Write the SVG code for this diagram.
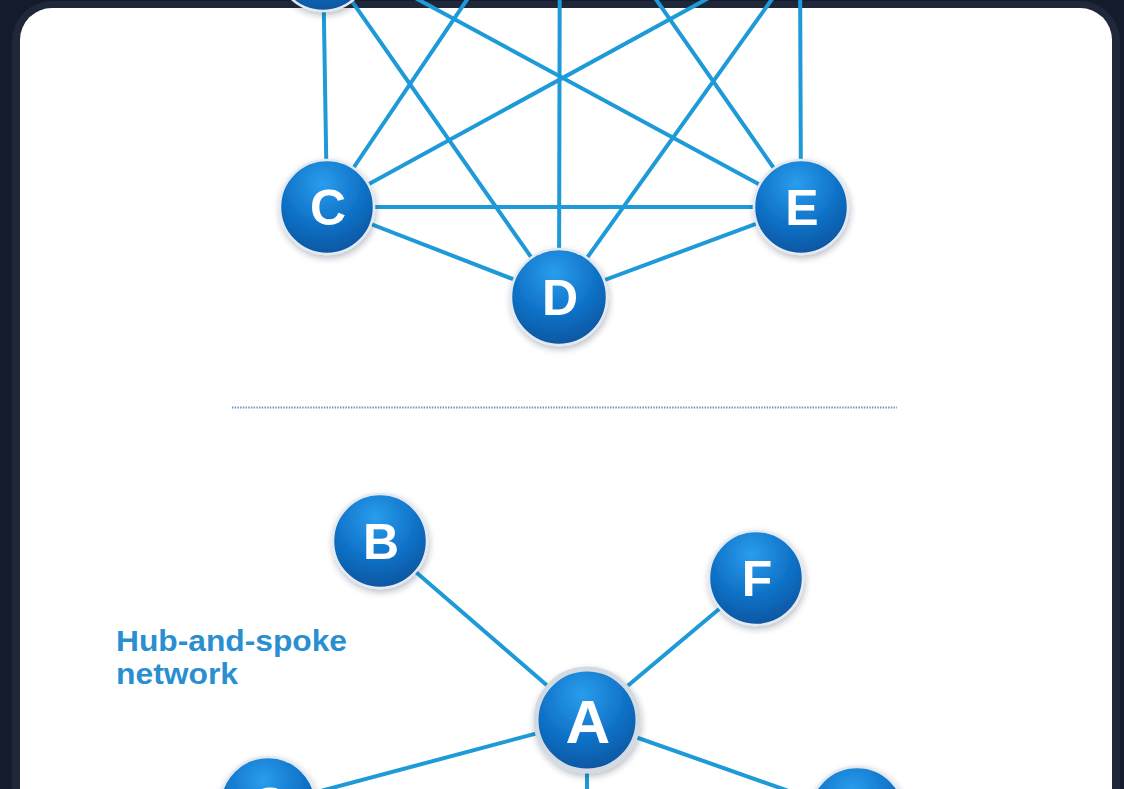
<svg xmlns="http://www.w3.org/2000/svg" width="1124" height="789" viewBox="0 0 1124 789">
  <defs>
    <radialGradient id="nodeGrad" cx="0.45" cy="0.25" r="0.85">
      <stop offset="0" stop-color="#2a9ded"/>
      <stop offset="0.5" stop-color="#1073c8"/>
      <stop offset="1" stop-color="#0a4d96"/>
    </radialGradient>
    <filter id="shadow" x="-30%" y="-30%" width="160%" height="160%">
      <feDropShadow dx="1" dy="3" stdDeviation="3" flood-color="#1a2a40" flood-opacity="0.3"/>
    </filter>
    <style>
      .edge { stroke: #1d9ad7; stroke-width: 4; stroke-linecap: round; fill: none; }
      .node { fill: url(#nodeGrad); stroke: #e2e9f0; stroke-width: 2.5; filter: url(#shadow); }
      .hub { fill: url(#nodeGrad); stroke: #d3dae2; stroke-width: 5; filter: url(#shadow); }
      .lbl { font-family: "Liberation Sans", Arial, sans-serif; font-weight: bold; fill: #ffffff; text-anchor: middle; }
      .title { font-family: "Liberation Sans", Arial, sans-serif; font-weight: bold; fill: #2a8fd1; font-size: 29px; }
    </style>
  </defs>

  <!-- background and panel -->
  <rect x="0" y="0" width="1124" height="789" fill="#141b2b"/>
  <rect x="12" y="1" width="1108" height="840" rx="40" fill="#1e283a"/>
  <rect x="20" y="8" width="1092" height="830" rx="32" fill="#ffffff"/>

  <!-- connectors -->
  <g id="connectors">
    <!-- mesh network -->
    <line class="edge" x1="323" y1="-40" x2="327" y2="207"/>
    <line class="edge" x1="323" y1="-40" x2="559" y2="297"/>
    <line class="edge" x1="323" y1="-52" x2="801" y2="207"/>
    <line class="edge" x1="560" y1="-138" x2="327" y2="207"/>
    <line class="edge" x1="560" y1="-138" x2="559" y2="297"/>
    <line class="edge" x1="560" y1="-138" x2="801" y2="207"/>
    <line class="edge" x1="800" y1="-52" x2="327" y2="207"/>
    <line class="edge" x1="800" y1="-40" x2="559" y2="297"/>
    <line class="edge" x1="800" y1="-40" x2="801" y2="207"/>
    <line class="edge" x1="327" y1="207" x2="801" y2="207"/>
    <line class="edge" x1="327" y1="207" x2="559" y2="297"/>
    <line class="edge" x1="559" y1="297" x2="801" y2="207"/>
    <!-- hub and spoke -->
    <line class="edge" x1="587" y1="720" x2="380" y2="541"/>
    <line class="edge" x1="587" y1="720" x2="756" y2="578"/>
    <line class="edge" x1="587" y1="720" x2="268" y2="805"/>
    <line class="edge" x1="587" y1="720" x2="857" y2="815"/>
    <line class="edge" x1="587" y1="720" x2="587" y2="900"/>
  </g>

  <!-- separator -->
  <line x1="232" y1="407.5" x2="897" y2="407.5" stroke="#6f9cc0" stroke-width="2" stroke-dasharray="1.5 1.2"/>

  <!-- mesh nodes -->
  <g id="mesh-B"><circle class="node" cx="323" cy="-36" r="47"/></g>
  <g id="mesh-F"><circle class="node" cx="800" cy="-52" r="47"/></g>
  <g id="mesh-C">
    <circle class="node" cx="327" cy="207" r="47"/>
    <text class="lbl" x="328" y="225" font-size="50">C</text>
  </g>
  <g id="mesh-D">
    <circle class="node" cx="559" cy="297" r="48"/>
    <text class="lbl" x="560" y="315" font-size="50">D</text>
  </g>
  <g id="mesh-E">
    <circle class="node" cx="801" cy="207" r="47"/>
    <text class="lbl" x="802" y="225" font-size="50">E</text>
  </g>

  <!-- hub-and-spoke label -->
  <text class="title" x="116" y="651" textLength="231" lengthAdjust="spacingAndGlyphs">Hub-and-spoke</text>
  <text class="title" x="116" y="684" textLength="122" lengthAdjust="spacingAndGlyphs">network</text>

  <!-- hub-and-spoke nodes -->
  <g id="hub-B">
    <circle class="node" cx="380" cy="541" r="47"/>
    <text class="lbl" x="381" y="559" font-size="50">B</text>
  </g>
  <g id="hub-F">
    <circle class="node" cx="756" cy="578" r="47"/>
    <text class="lbl" x="757" y="596" font-size="50">F</text>
  </g>
  <g id="hub-A">
    <circle class="hub" cx="587" cy="720" r="51"/>
    <text class="lbl" x="588" y="743" font-size="62">A</text>
  </g>
  <g id="hub-C">
    <circle class="node" cx="268" cy="805" r="48"/>
    <text class="lbl" x="269" y="823" font-size="50">C</text>
  </g>
  <g id="hub-E">
    <circle class="node" cx="857" cy="815" r="48"/>
  </g>
</svg>
